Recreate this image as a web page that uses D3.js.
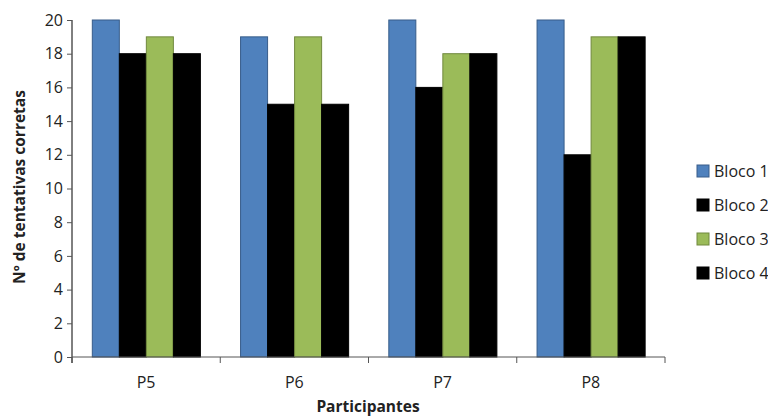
<!DOCTYPE html>
<html><head><meta charset="utf-8">
<script src="https://cdn.jsdelivr.net/npm/d3@7"></script>
<style>body{margin:0;background:#fff}svg{display:block}text{font-family:"Open Sans",sans-serif}</style>
</head><body><svg id="c" width="768" height="418"></svg>
<script>
const categories = ["P5","P6","P7","P8"];
const seriesNames = ["Bloco 1","Bloco 2","Bloco 3","Bloco 4"];
const bloco1 = [20,19,20,20];
const bloco2 = [18,15,16,12];
const bloco3 = [19,19,18,19];
const bloco4 = [18,15,18,19];
const yTicks = [0,2,4,6,8,10,12,14,16,18,20];
const colors = ["#4F81BD","#000000","#9BBB59","#000000"];
const strokes = ["#385D8A","#000000","#71893F","#000000"];

const series = [bloco1,bloco2,bloco3,bloco4];
const svg = d3.select("#c");
const L=72, R=665, T=20, B=357;
const x0 = d3.scaleBand().domain(categories).range([L,R]).padding(0);
const bw = x0.bandwidth();
const x1 = d3.scaleBand().domain(d3.range(4)).range([bw*0.137, bw*0.866]).padding(0);
const y = d3.scaleLinear().domain([0,20]).range([B,T]);

// bars
const g = svg.append("g");
categories.forEach((c,ci)=>{
  series.forEach((s,si)=>{
    g.append("rect")
      .attr("x", x0(c)+x1(si))
      .attr("y", y(s[ci]))
      .attr("width", x1.bandwidth())
      .attr("height", B - y(s[ci]))
      .attr("fill", colors[si])
      .attr("stroke", strokes[si])
      .attr("stroke-width", 1);
  });
});

// y axis
const ya = svg.append("g").attr("transform",`translate(${L},0)`)
  .call(d3.axisLeft(y).tickValues(yTicks).tickSize(5).tickPadding(4).tickSizeOuter(0));
ya.select(".domain").attr("stroke","#000").attr("d",`M0,${T}V${B+6}`);
ya.selectAll(".tick line").attr("stroke","#555");
ya.selectAll("text").attr("font-size",16).attr("fill","#222").attr("font-family","'Open Sans',sans-serif");

// x axis
const xa = svg.append("g").attr("transform",`translate(0,${B})`);
xa.append("line").attr("x1",L).attr("x2",R).attr("y1",0).attr("y2",0).attr("stroke","#555");
[...categories.map(c=>x0(c)), R].forEach(v=>{
  xa.append("line").attr("x1",v).attr("x2",v).attr("y1",0).attr("y2",6).attr("stroke","#555");
});
categories.forEach(c=>{
  xa.append("text").attr("x",x0(c)+bw/2).attr("y",31).attr("text-anchor","middle")
    .attr("font-size",16).attr("fill","#222").text(c);
});

// axis titles
svg.append("text").attr("x",368).attr("y",412).attr("text-anchor","middle")
  .attr("font-size",15.5).attr("font-weight","bold").attr("fill","#222").text("Participantes");
svg.append("text").attr("transform",`translate(25,187) rotate(-90)`).attr("text-anchor","middle")
  .attr("font-size",15.5).attr("font-weight","bold").attr("fill","#222").text("Nº de tentativas corretas");

// legend
const lg = svg.append("g");
seriesNames.forEach((n,i)=>{
  const cy = 171 + i*34;
  lg.append("rect").attr("x",697).attr("y",cy-6).attr("width",12).attr("height",12)
    .attr("fill",colors[i]).attr("stroke",strokes[i]);
  lg.append("text").attr("x",714).attr("y",cy+6).attr("font-size",16).attr("fill","#222").text(n);
});
</script></body></html>
